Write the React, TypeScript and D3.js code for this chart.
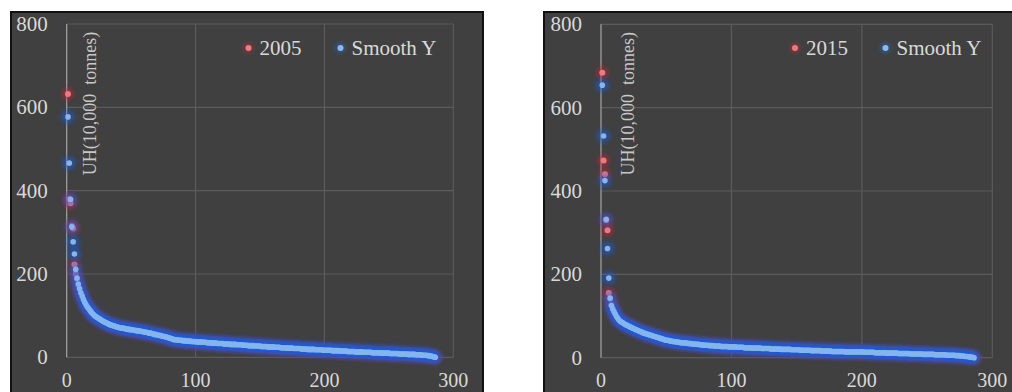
import * as d3 from 'd3';

// sorted values, rank 1..286
const smooth2005 = [
  577, 466, 379, 313, 277, 248, 211, 190, 176, 165,
  155, 147, 139, 132, 126, 121, 117, 113, 109, 105,
  102, 99, 97, 95, 93, 91, 89, 87, 85, 84,
  82, 81, 79, 78, 77, 76, 75, 74, 73, 72,
  71, 71, 70, 70, 69, 68, 68, 67, 67, 66,
  66, 65, 65, 64, 64, 63, 63, 62, 62, 61,
  60, 60, 59, 58, 58, 57, 56, 55, 55, 54,
  53, 53, 52, 51, 50, 50, 49, 48, 47, 46,
  45, 44, 43, 42, 42, 42, 41, 41, 41, 40,
  40, 40, 39, 39, 39, 39, 38, 38, 38, 38,
  37, 37, 37, 37, 36, 36, 36, 36, 35, 35,
  35, 35, 34, 34, 34, 34, 33, 33, 33, 33,
  33, 32, 32, 32, 32, 32, 31, 31, 31, 31,
  31, 30, 30, 30, 30, 30, 29, 29, 29, 29,
  28, 28, 28, 28, 28, 27, 27, 27, 27, 27,
  26, 26, 26, 26, 26, 25, 25, 25, 25, 25,
  24, 24, 24, 24, 24, 23, 23, 23, 23, 23,
  22, 22, 22, 22, 22, 21, 21, 21, 21, 21,
  21, 20, 20, 20, 20, 20, 19, 19, 19, 19,
  19, 19, 18, 18, 18, 18, 18, 18, 17, 17,
  17, 17, 17, 17, 17, 16, 16, 16, 16, 16,
  16, 15, 15, 15, 15, 15, 15, 14, 14, 14,
  14, 14, 14, 13, 13, 13, 13, 13, 13, 12,
  12, 12, 12, 12, 12, 12, 11, 11, 11, 11,
  11, 11, 11, 10, 10, 10, 10, 10, 10, 10,
  9, 9, 9, 9, 9, 9, 9, 8, 8, 8,
  8, 8, 8, 8, 7, 7, 7, 7, 7, 7,
  6, 6, 6, 6, 6, 5, 5, 5, 5, 4,
  4, 3, 3, 2, 1, 0,
];

const actual2005 = [
  632, 380, 370, 315, 309, 223, 200, 186, 172, 163,
  153, 146, 140, 131, 127, 120, 118, 112, 110, 104,
  103, 98, 97, 94, 93, 90, 89, 86, 85, 83,
  82, 80, 79, 78, 76, 76, 74, 74, 72, 72,
  71, 70, 70, 69, 69, 68, 67, 67, 66, 66,
  65, 65, 64, 64, 63, 63, 62, 62, 61, 61,
  60, 59, 59, 58, 57, 57, 56, 55, 54, 54,
  53, 52, 52, 51, 50, 49, 49, 48, 47, 46,
  45, 44, 43, 43, 42, 41, 41, 41, 40, 40,
  40, 39, 39, 39, 38, 38, 38, 38, 37, 37,
  37, 37, 36, 36, 36, 36, 35, 35, 35, 35,
  34, 34, 34, 34, 33, 33, 33, 33, 33, 32,
  32, 32, 32, 32, 31, 31, 31, 31, 31, 30,
  30, 30, 30, 30, 29, 29, 29, 29, 29, 28,
  28, 28, 28, 27, 27, 27, 27, 27, 26, 26,
  26, 26, 25, 25, 25, 25, 25, 24, 24, 24,
  24, 23, 23, 23, 23, 23, 22, 22, 22, 22,
  22, 21, 21, 21, 21, 21, 20, 20, 20, 20,
  20, 20, 19, 19, 19, 19, 19, 18, 18, 18,
  18, 18, 18, 17, 17, 17, 17, 17, 17, 16,
  16, 16, 16, 16, 16, 15, 15, 15, 15, 15,
  15, 14, 14, 14, 14, 14, 14, 13, 13, 13,
  13, 13, 13, 12, 12, 12, 12, 12, 12, 11,
  11, 11, 11, 11, 11, 11, 10, 10, 10, 10,
  10, 10, 10, 9, 9, 9, 9, 9, 9, 9,
  8, 8, 8, 8, 8, 8, 8, 7, 7, 7,
  7, 7, 7, 7, 6, 6, 6, 6, 6, 6,
  5, 5, 5, 5, 5, 4, 4, 4, 4, 3,
  3, 2, 2, 1, 1, 0,
];

const smooth2015 = [
  654, 532, 425, 332, 262, 191, 143, 125, 117, 110,
  104, 98, 94, 90, 87, 85, 83, 81, 79, 78,
  76, 74, 73, 71, 70, 68, 67, 66, 64, 63,
  62, 60, 59, 58, 57, 56, 55, 54, 53, 52,
  51, 50, 49, 48, 47, 46, 45, 44, 43, 42,
  42, 41, 40, 40, 39, 39, 38, 38, 37, 37,
  36, 36, 36, 35, 35, 35, 34, 34, 34, 33,
  33, 33, 32, 32, 32, 31, 31, 31, 30, 30,
  30, 30, 29, 29, 29, 29, 28, 28, 28, 28,
  28, 27, 27, 27, 27, 27, 27, 26, 26, 26,
  26, 26, 26, 25, 25, 25, 25, 25, 25, 24,
  24, 24, 24, 24, 24, 23, 23, 23, 23, 23,
  23, 23, 22, 22, 22, 22, 22, 22, 22, 21,
  21, 21, 21, 21, 21, 21, 21, 20, 20, 20,
  20, 20, 20, 20, 20, 19, 19, 19, 19, 19,
  19, 19, 18, 18, 18, 18, 18, 18, 18, 18,
  17, 17, 17, 17, 17, 17, 17, 17, 16, 16,
  16, 16, 16, 16, 16, 16, 15, 15, 15, 15,
  15, 15, 15, 15, 15, 15, 14, 14, 14, 14,
  14, 14, 14, 14, 14, 14, 14, 14, 14, 14,
  14, 13, 13, 13, 13, 13, 13, 13, 13, 12,
  12, 12, 12, 12, 12, 12, 12, 12, 11, 11,
  11, 11, 11, 11, 11, 11, 11, 10, 10, 10,
  10, 10, 10, 10, 10, 10, 9, 9, 9, 9,
  9, 9, 9, 9, 9, 9, 8, 8, 8, 8,
  8, 8, 8, 8, 8, 7, 7, 7, 7, 7,
  7, 7, 7, 7, 6, 6, 6, 6, 6, 6,
  6, 5, 5, 5, 5, 4, 4, 4, 3, 3,
  3, 2, 2, 1, 1, 0,
];

const actual2015 = [
  684, 473, 440, 330, 306, 155, 140, 127, 119, 111,
  105, 99, 95, 91, 88, 86, 83, 82, 80, 78,
  77, 75, 73, 72, 70, 69, 67, 66, 65, 63,
  62, 61, 59, 58, 57, 56, 55, 54, 53, 52,
  51, 50, 49, 48, 47, 46, 45, 44, 43, 43,
  42, 41, 41, 40, 39, 39, 38, 38, 37, 37,
  37, 36, 36, 35, 35, 35, 34, 34, 34, 33,
  33, 33, 32, 32, 32, 31, 31, 31, 31, 30,
  30, 30, 29, 29, 29, 29, 28, 28, 28, 28,
  28, 27, 27, 27, 27, 27, 26, 26, 26, 26,
  26, 26, 25, 25, 25, 25, 25, 25, 24, 24,
  24, 24, 24, 24, 23, 23, 23, 23, 23, 23,
  22, 22, 22, 22, 22, 22, 22, 21, 21, 21,
  21, 21, 21, 21, 21, 20, 20, 20, 20, 20,
  20, 20, 20, 19, 19, 19, 19, 19, 19, 19,
  18, 18, 18, 18, 18, 18, 18, 18, 17, 17,
  17, 17, 17, 17, 17, 17, 16, 16, 16, 16,
  16, 16, 16, 16, 15, 15, 15, 15, 15, 15,
  15, 15, 15, 14, 14, 14, 14, 14, 14, 14,
  14, 14, 14, 14, 14, 14, 14, 13, 13, 13,
  13, 13, 13, 13, 13, 13, 13, 12, 12, 12,
  12, 12, 12, 12, 12, 12, 11, 11, 11, 11,
  11, 11, 11, 11, 10, 10, 10, 10, 10, 10,
  10, 10, 10, 9, 9, 9, 9, 9, 9, 9,
  9, 8, 8, 8, 8, 8, 8, 8, 8, 8,
  7, 7, 7, 7, 7, 7, 7, 7, 6, 6,
  6, 6, 6, 6, 6, 6, 6, 5, 5, 5,
  5, 5, 5, 4, 4, 4, 4, 3, 3, 3,
  3, 2, 2, 1, 1, 0,
];

const X_TICKS = [0, 100, 200, 300];
const Y_TICKS = [0, 200, 400, 600, 800];
const SERIES_SMOOTH = 'Smooth Y';
const Y_TITLE = 'UH(10,000  tonnes)';

const FONT = '"Liberation Serif", "Times New Roman", serif';
const TEXT = '#d9d9d9';
const GRID = '#5b5b5b';

type PanelProps = {
  id: string;
  box: { x0: number; x1: number };
  plot: { left: number; right: number; top: number; bottom: number };
  year: string;
  actual: number[];
  smooth: number[];
  legend: { red: number; blue: number };
  titleX: number;
};

function Panel({ id, box, plot, year, actual, smooth, legend, titleX }: PanelProps) {
  const x = d3.scaleLinear().domain([0, 300]).range([plot.left, plot.right]);
  const y = d3.scaleLinear().domain([0, 800]).range([plot.bottom, plot.top]);

  const pts = (vals: number[]) => vals.map((v, i) => ({ cx: x(i + 1), cy: y(v) }));
  const red = pts(actual);
  const blue = pts(smooth);

  return (
    <g>
      <rect x={box.x0} y={12} width={box.x1 - box.x0} height={400} fill="#404040" stroke="#111" strokeWidth={2} />

      {Y_TICKS.map(t => (
        <line key={'gy' + t} x1={plot.left} x2={plot.right} y1={y(t)} y2={y(t)} stroke={GRID} strokeWidth={1.2} />
      ))}
      {X_TICKS.map(t => (
        <line key={'gx' + t} x1={x(t)} x2={x(t)} y1={plot.top} y2={plot.bottom}
          stroke={t === 0 ? '#a6a6a6' : GRID} strokeWidth={1.2} />
      ))}

      {Y_TICKS.map(t => (
        <text key={'ty' + t} x={plot.left - 19} y={y(t)} dy="0.34em" textAnchor="end"
          fontFamily={FONT} fontSize={21} fill={TEXT}>{t}</text>
      ))}
      {X_TICKS.map(t => (
        <text key={'tx' + t} x={x(t)} y={387} textAnchor="middle"
          fontFamily={FONT} fontSize={20} fill={TEXT}>{t}</text>
      ))}

      <text transform={`translate(${titleX},${y(437)}) rotate(-90)`} fontFamily={FONT} fontSize={18}
        fill="#c8c8c8" style={{ whiteSpace: 'pre' }}>{Y_TITLE}</text>

      {/* series 1: actual values */}
      <g filter={`url(#blur-${id})`}>
        {red.map((p, i) => <circle key={i} cx={p.cx} cy={p.cy} r={6.5} fill="#c8283a" fillOpacity={0.45} />)}
      </g>
      {red.map((p, i) => <circle key={i} cx={p.cx} cy={p.cy} r={3} fill="#f2777f" />)}

      {/* series 2: smoothed */}
      <g filter={`url(#blur-${id})`}>
        {blue.map((p, i) => <circle key={i} cx={p.cx} cy={p.cy} r={7.2} fill="#0f60e4" fillOpacity={0.45} />)}
      </g>
      {blue.map((p, i) => <circle key={i} cx={p.cx} cy={p.cy} r={2.8} fill="#86b4ec" />)}

      {/* legend */}
      <circle cx={legend.red} cy={48} r={5} fill="#c0303a" opacity={0.5} filter={`url(#blur-${id})`} />
      <circle cx={legend.red} cy={48} r={3} fill="#f2777f" />
      <text x={legend.red + 11} y={48} dy="0.34em" fontFamily={FONT} fontSize={21} fill={TEXT}>{year}</text>
      <circle cx={legend.blue} cy={48} r={5} fill="#1f6fe0" opacity={0.5} filter={`url(#blur-${id})`} />
      <circle cx={legend.blue} cy={48} r={3} fill="#8db8ea" />
      <text x={legend.blue + 11} y={48} dy="0.34em" fontFamily={FONT} fontSize={21} fill={TEXT}>{SERIES_SMOOTH}</text>
    </g>
  );
}

export default function App() {
  return (
    <svg width={1012} height={392} style={{ position: 'absolute', left: 0, top: 0, background: '#fff' }}>
      <defs>
        {['a', 'b'].map(k => (
          <filter key={k} id={`blur-${k}`} x="-20%" y="-20%" width="140%" height="140%">
            <feGaussianBlur stdDeviation={2} />
          </filter>
        ))}
      </defs>
      <Panel id="a" box={{ x0: 11, x1: 483 }}
        plot={{ left: 66.7, right: 453.3, top: 24, bottom: 357.3 }}
        year="2005" actual={actual2005} smooth={smooth2005}
        legend={{ red: 248.5, blue: 340.5 }} titleX={96} />
      <Panel id="b" box={{ x0: 544, x1: 1020 }}
        plot={{ left: 601, right: 992.3, top: 24.3, bottom: 357.7 }}
        year="2015" actual={actual2015} smooth={smooth2015}
        legend={{ red: 795, blue: 885.5 }} titleX={634} />
    </svg>
  );
}
